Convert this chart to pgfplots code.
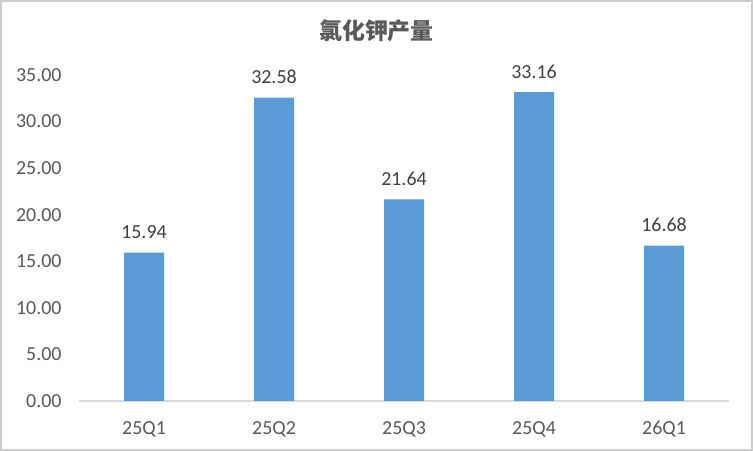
\documentclass[border=0pt]{standalone}
\usepackage{pgfplots}
\pgfplotsset{compat=1.18}
\usepackage{fontspec}
\setmainfont{Carlito}
\newfontfamily\cjk{Noto Sans CJK SC}
\definecolor{barc}{HTML}{5B9BD5}
\definecolor{txt}{HTML}{595959}
\definecolor{axc}{HTML}{D9D9D9}
\begin{document}
\begin{tikzpicture}[x=1bp,y=1bp]
\useasboundingbox (-79,-50) rectangle (674,401);
\fill[white] (-79,-50) rectangle (674,401);
\draw[color=black!20, line width=2bp] (-78,-49) rectangle (673,400);
\node[font={\cjk\bfseries\fontsize{23}{23}\selectfont}, text=txt] at (297.5,370) {氯化钾产量};
\begin{axis}[
  at={(0,0)}, anchor=south west,
  scale only axis, width=650bp, height=326bp,
  xmin=-0.5, xmax=4.5, ymin=0, ymax=35,
  ytick={0,5,...,35},
  xtick=data,
  xticklabels={25Q1,25Q2,25Q3,25Q4,26Q1},
  axis x line=bottom, axis y line=left,
  x axis line style={draw=axc, line width=1.2bp, -},
  y axis line style={draw=none},
  major tick length=0,
  /pgf/number format/assume math mode=true,
  yticklabel style={/pgf/number format/.cd, fixed, fixed zerofill, precision=2, /tikz/.cd,
     font=\fontsize{20}{20}\selectfont, text=txt, xshift=-14bp},
  xticklabel style={font=\fontsize{20}{20}\selectfont, text=txt, yshift=-17bp},
  ybar, bar width=40bp,
  nodes near coords,
  nodes near coords style={/pgf/number format/.cd, fixed, fixed zerofill, precision=2, /tikz/.cd,
     font=\fontsize{20}{20}\selectfont, text=black!75, yshift=10bp},
  clip=false,
]
\addplot[fill=barc, draw=none] coordinates {(0,15.94) (1,32.58) (2,21.64) (3,33.16) (4,16.68)};
\end{axis}
\end{tikzpicture}
\end{document}
